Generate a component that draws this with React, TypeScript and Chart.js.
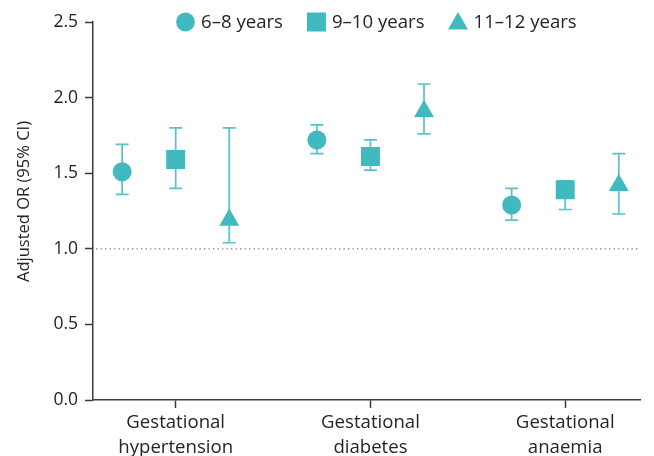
import React, { useEffect, useRef } from "react";
import { Chart, registerables } from "chart.js";

Chart.register(...registerables);

// ---- Data ----
const categories: string[][] = [
  ["Gestational", "hypertension"],
  ["Gestational", "diabetes"],
  ["Gestational", "anaemia"],
];
const seriesLabels = ["6–8 years", "9–10 years", "11–12 years"];
const yAxisTitle = "Adjusted OR (95% CI)";

const or6to8 = [1.51, 1.72, 1.29];
const lower6to8 = [1.36, 1.63, 1.19];
const upper6to8 = [1.69, 1.82, 1.4];

const or9to10 = [1.59, 1.61, 1.39];
const lower9to10 = [1.4, 1.52, 1.26];
const upper9to10 = [1.8, 1.72, 1.45];

const or11to12 = [1.19, 1.91, 1.42];
const lower11to12 = [1.04, 1.76, 1.23];
const upper11to12 = [1.8, 2.09, 1.63];

const yTickValues = [0, 0.5, 1.0, 1.5, 2.0, 2.5];
const referenceOR = 1.0;

// ---- Styles ----
const TEAL = "#41b9c1";
const BAR = "#56c2c9";
const TEXT = "#262324";
const AXIS = "#3a3a3a";
const FONT = "'Open Sans', 'Noto Sans', sans-serif";
const TICK_SIZE = 17.5;
const LABEL_SIZE = 18.6;
const groupOffsets = [-0.275, 0, 0.275];
const pointStyles = ["circle", "rect", "triangle"];
const pointRadii = [9.5, 13.4, 11.5];

const seriesValues = [or6to8, or9to10, or11to12];
const seriesLower = [lower6to8, lower9to10, lower11to12];
const seriesUpper = [upper6to8, upper9to10, upper11to12];

const refLinePlugin = {
  id: "refLine",
  beforeDatasetsDraw(chart: any) {
    const { ctx, chartArea, scales } = chart;
    const y = scales.y.getPixelForValue(referenceOR);
    ctx.save();
    ctx.strokeStyle = "#7a7a7a";
    ctx.lineWidth = 1.3;
    ctx.setLineDash([1.3, 3.2]);
    ctx.beginPath();
    ctx.moveTo(chartArea.left + 3, y);
    ctx.lineTo(chartArea.right, y);
    ctx.stroke();
    ctx.restore();
  },
};

const errorBarPlugin = {
  id: "errorBars",
  beforeDatasetsDraw(chart: any) {
    const { ctx, scales } = chart;
    const xs = scales.x;
    const ys = scales.y;
    ctx.save();
    ctx.strokeStyle = BAR;
    ctx.lineWidth = 1.7;
    chart.data.datasets.forEach((ds: any) => {
      ds.data.forEach((pt: any, i: number) => {
        const px = xs.getPixelForValue(pt.x);
        const yl = ys.getPixelForValue(ds.lower[i]);
        const yh = ys.getPixelForValue(ds.upper[i]);
        const cap = 6.5;
        ctx.beginPath();
        ctx.moveTo(px, yl);
        ctx.lineTo(px, yh);
        ctx.moveTo(px - cap, yl);
        ctx.lineTo(px + cap, yl);
        ctx.moveTo(px - cap, yh);
        ctx.lineTo(px + cap, yh);
        ctx.stroke();
      });
    });
    ctx.restore();
  },
};

const titlePlugin = {
  id: "yTitle",
  afterDraw(chart: any) {
    const { ctx, chartArea } = chart;
    ctx.save();
    ctx.font = `16.5px ${FONT}`;
    ctx.fillStyle = TEXT;
    ctx.textAlign = "center";
    ctx.textBaseline = "middle";
    ctx.translate(24, (chartArea.top + chartArea.bottom) / 2 - 9.5);
    ctx.rotate(-Math.PI / 2);
    ctx.fillText(yAxisTitle, 0, 0);
    ctx.restore();
  },
};

const legendPlugin = {
  id: "customLegend",
  afterDraw(chart: any) {
    const { ctx } = chart;
    ctx.save();
    ctx.font = `${LABEL_SIZE}px ${FONT}`;
    const markerW = 19;
    const gap = 6;
    const itemGap = 24;
    const widths = seriesLabels.map((l) => markerW + gap + ctx.measureText(l).width);
    let x = 176;
    const cy = 22;
    seriesLabels.forEach((label, i) => {
      const cx = x + markerW / 2;
      ctx.fillStyle = TEAL;
      ctx.beginPath();
      if (i === 0) {
        ctx.arc(cx, cy, 9.4, 0, Math.PI * 2);
      } else if (i === 1) {
        ctx.rect(cx - 9.5, cy - 9.5, 19, 19);
      } else {
        ctx.moveTo(cx, cy - 10);
        ctx.lineTo(cx + 10, cy + 7.5);
        ctx.lineTo(cx - 10, cy + 7.5);
        ctx.closePath();
      }
      ctx.fill();
      ctx.fillStyle = TEXT;
      ctx.textBaseline = "middle";
      ctx.textAlign = "left";
      ctx.fillText(label, x + markerW + gap, cy + 1);
      x += widths[i] + itemGap;
    });
    ctx.restore();
  },
};

export default function App() {
  const canvasRef = useRef<HTMLCanvasElement | null>(null);

  useEffect(() => {
    if (!canvasRef.current) return;
    const datasets = seriesLabels.map((label, s) => ({
      label,
      data: categories.map((_, i) => ({ x: i + groupOffsets[s], y: seriesValues[s][i] })),
      lower: seriesLower[s],
      upper: seriesUpper[s],
      pointStyle: pointStyles[s],
      pointRadius: pointRadii[s],
      pointHoverRadius: pointRadii[s],
      backgroundColor: TEAL,
      borderColor: TEAL,
      borderWidth: 0,
      showLine: false,
    }));

    const chart = new Chart(canvasRef.current, {
      type: "scatter",
      data: { datasets: datasets as any },
      plugins: [refLinePlugin, errorBarPlugin, legendPlugin, titlePlugin],
      options: {
        animation: false,
        responsive: false,
        maintainAspectRatio: false,
        layout: { padding: { top: 22, right: 0, bottom: 0, left: 0 } },
        plugins: {
          legend: { display: false },
          tooltip: { enabled: false },
        },
        scales: {
          x: {
            type: "linear",
            min: -0.4246,
            max: 2.387,
            afterBuildTicks: (scale: any) => {
              scale.ticks = categories.map((_, i) => ({ value: i }));
            },
            afterFit: (scale: any) => {
              scale.height = 56;
              scale.paddingLeft = 0;
              scale.paddingRight = 0;
            },
            ticks: {
              autoSkip: false,
              maxRotation: 0,
              padding: 3,
              color: TEXT,
              font: { family: FONT, size: LABEL_SIZE, lineHeight: 1.31 },
              callback: (v: any) => categories[Math.round(Number(v))] ?? "",
            },
            grid: {
              drawOnChartArea: false,
              drawTicks: true,
              tickLength: 8,
              tickWidth: 1.5,
              tickColor: AXIS,
            },
            border: { display: true, color: AXIS, width: 1.5 },
          },
          y: {
            type: "linear",
            min: 0,
            max: 2.5,
            afterBuildTicks: (scale: any) => {
              scale.ticks = yTickValues.map((v) => ({ value: v }));
            },
            afterFit: (scale: any) => {
              scale.width = 93;
              scale.paddingTop = 0;
              scale.paddingBottom = 0;
            },
            ticks: {
              padding: 7,
              color: TEXT,
              font: { family: FONT, size: TICK_SIZE },
              callback: (v: any) => Number(v).toFixed(1),
            },
            grid: {
              drawOnChartArea: false,
              drawTicks: true,
              tickLength: 8,
              tickWidth: 1.5,
              tickColor: AXIS,
            },
            border: { display: true, color: AXIS, width: 1.5 },
          },
        },
      },
    });
    return () => chart.destroy();
  }, []);

  return (
    <div style={{ position: "fixed", left: 0, top: 0, width: 654, height: 456, background: "#fff" }}>
      <canvas ref={canvasRef} width={654} height={456} style={{ width: 654, height: 456, display: "block" }} />
    </div>
  );
}
